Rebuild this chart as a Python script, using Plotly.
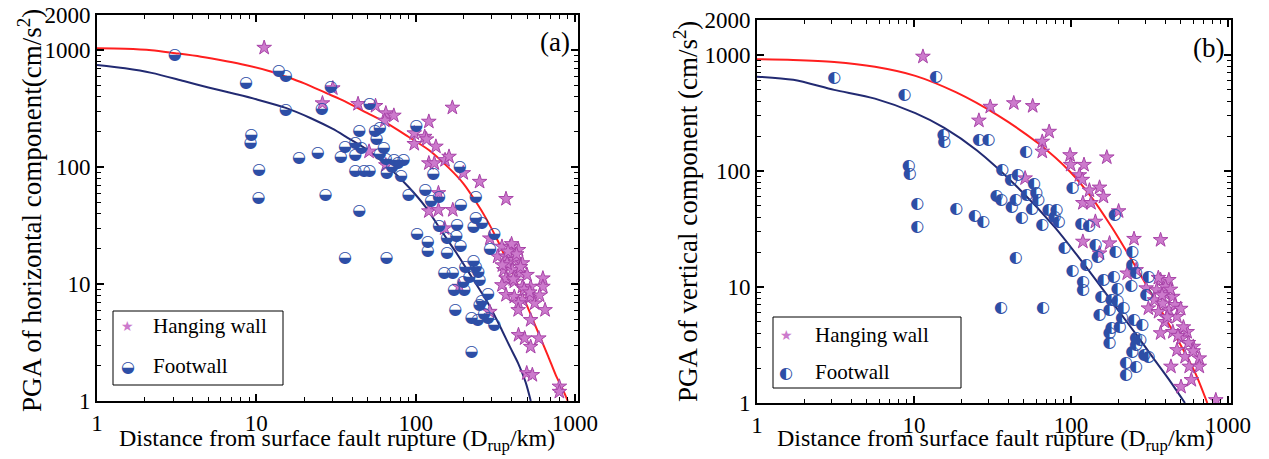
import plotly.graph_objects as go

# ---------------- Panel (a): horizontal component ----------------
hw_a_x = [11.2, 30.2, 26, 43.5, 56, 65, 64, 73, 170, 121, 98, 114, 117, 98, 51, 134, 121, 131, 153, 162,
          199, 252, 369, 139, 121, 139, 171, 65, 152, 292, 348, 392, 442, 327, 369, 416, 468, 358, 404, 455,
          369, 416, 348, 468, 527, 629, 629, 369, 416, 468, 527, 559, 442, 649, 527, 442, 483, 593, 527, 498,
          540, 798, 798, 188, 292, 400, 430, 455, 375, 410, 480, 520, 440, 600, 380, 350, 500]
hw_a_y = [1050, 473, 352, 347, 334, 289, 250, 276, 323, 245, 195, 182, 173, 158, 136, 150, 108, 108, 115, 123,
          89, 75, 53.5, 60, 42, 43, 43, 104, 30, 24.6, 20.9, 20.9, 19.6, 17.2, 17.2, 16.1, 15.1, 13.2, 13.2, 12.4,
          11.2, 10.5, 9.8, 9.5, 9.5, 11.2, 9.5, 8.07, 7.8, 7.3, 7.8, 6.85, 6.85, 6.0, 4.93, 3.67, 3.44, 3.44, 2.91, 1.73,
          1.67, 1.33, 1.2, 9.5, 5.8, 22, 18, 14, 15, 11, 9, 8.5, 6, 8, 19, 14.5, 12]

fw_a_x = [3.07, 8.6, 9.3, 9.2, 10.4, 10.3, 13.8, 15.3, 15.3, 18.5, 24.3, 25.7, 29.3, 27.2, 51.3, 44.2, 44.2,
          33.9, 36, 41.7, 41.7, 45.6, 41.7, 47.4, 51.3, 55.5, 56.7, 59.4, 59.4, 63, 65, 65.8, 73, 77.6, 83.8, 71,
          80.8, 90, 101, 115, 125, 140, 129, 189, 192, 238, 238, 260, 182, 140, 102, 180, 231, 311, 157, 119, 119,
          157, 191, 293, 36, 65.7, 151, 171, 205, 231, 238, 247, 217, 199, 252, 174, 202, 284, 260, 252, 177, 268,
          224, 245, 284, 311, 224]
fw_a_y = [912, 522, 188, 162, 95, 54, 665, 603, 308, 119, 131, 313, 483, 58, 347, 204, 42.5,
          123, 150, 160, 127, 145, 92, 92, 93, 204, 173, 215, 130, 145, 117, 89, 115, 108, 114, 101,
          84, 58, 225, 64, 51, 55, 87.5, 100, 47, 55, 36.5, 33, 32, 31.4, 27, 26, 31, 27, 24.6, 23, 19,
          18.3, 21, 20, 16.6, 16.6, 12.4, 12.4, 14, 15.6, 14, 12.8, 11.6, 10.5, 10.8, 8.9, 8.9, 8.3, 7.1, 6.6, 6, 5.6,
          5.1, 4.9, 5.1, 4.5, 2.64]

curve_hw_a_x = [1, 1.5, 2.2, 3.1, 4.5, 6.5, 8.5, 12, 15.3, 20, 27.5, 36, 49.5, 65, 90, 121, 162, 200, 240, 275,
                330, 393, 460, 527, 600, 680, 760, 840, 901]
curve_hw_a_y = [1040, 1030, 1000, 943, 880, 805, 748, 665, 595, 520, 429, 365, 291, 240, 182, 140, 98, 72, 50, 37,
                23, 13.5, 8.5, 5.5, 3.6, 2.4, 1.65, 1.25, 1.0]
curve_fw_a_x = [1, 1.5, 2.2, 3.5, 5, 7.5, 10, 15.3, 22, 30, 37, 50, 67, 90, 115, 144, 180, 217, 260, 293,
                340, 391, 440, 490, 528]
curve_fw_a_y = [748, 700, 640, 545, 480, 420, 380, 321, 262, 213, 180, 140, 101, 68, 46, 29, 18.5, 12.4, 8.4, 6.4,
                4.3, 2.9, 2.1, 1.45, 1.0]

# ---------------- Panel (b): vertical component ----------------
hw_b_x = [11.4, 25.9, 30.6, 43.2, 57, 72.6, 65.6, 65.6, 98.6, 99.5, 121, 169, 113, 118, 131, 152, 161, 119, 134,
          51, 201, 143, 119, 176, 252, 372, 152, 228, 301, 372, 420, 351, 395, 445, 340, 384, 311, 361, 420, 473,
          395, 372, 445, 549, 503, 601, 473, 533, 656, 433, 566, 656, 502, 584, 836, 260, 400, 430, 380, 460, 500,
          410, 520, 560, 600, 480, 360]
hw_b_y = [967, 272, 358, 384, 363, 218, 179, 147, 137, 113, 113, 131, 92, 84, 68, 72, 60, 53, 53,
          86.5, 45, 36.6, 24.6, 23.8, 26, 25.4, 19.5, 13.1, 9.75, 11.5, 11.5, 9.4, 8.8, 8.25, 7.7, 7.2, 6.55, 6.1, 6.3, 5.55,
          5.0, 4.0, 4.1, 4.1, 3.6, 3.06, 2.86, 2.5, 2.43, 2.06, 2.06, 2.06, 1.38, 1.58, 1.06, 14, 10, 9.5, 8.5, 7, 6.5,
          5.5, 4.5, 3.3, 2.8, 3.8, 12]

fw_b_x = [3.1, 8.7, 13.8, 9.25, 9.4, 10.5, 10.5, 15.4, 15.6, 25.9, 29.8, 18.6, 24.4, 27.6, 51.6, 36.5, 41.4, 45.8,
          33.5, 36, 44.4, 41.9, 52.2, 58.2, 60, 61.8, 56.5, 71.8, 80.9, 48.5, 65.6, 83.4, 78.5, 102, 116, 130, 190,
          44.4, 91, 102, 119, 119, 143, 148, 125, 161, 187, 192, 198, 156, 181, 198, 152, 176, 216, 211, 181, 204,
          176, 176, 245, 245, 259, 242, 311, 301, 252, 284, 259, 276, 259, 245, 293, 311, 259, 224, 224, 35.8, 66.2]
fw_b_y = [630, 452, 642, 111, 94, 52, 33, 204, 179, 185, 185, 47, 41, 36, 147, 101, 84, 92,
          61, 56, 56, 49, 62, 77, 65, 56, 47, 46, 46, 39, 34, 36, 40, 71, 35, 33.6, 42,
          17.7, 21.6, 13.6, 11.1, 9.4, 23, 18.2, 15.5, 11.5, 12.3, 20, 9.7, 8.25, 7.7, 7.5, 5.7, 6.3, 6.55, 5.4, 4.4, 4.55,
          4.0, 3.27, 20, 15.5, 13.1, 10.1, 12.3, 8.5, 5.2, 4.7, 3.6, 3.5, 3.16, 2.77, 2.6, 2.5, 2.06, 2.2, 1.74, 6.55, 6.55]

curve_hw_b_x = [1, 1.7, 3.1, 5.64, 10.2, 18.6, 33.8, 61.8, 99, 134, 181, 244, 351, 503, 620, 738]
curve_hw_b_y = [918, 905, 870, 790, 660, 475, 304, 173, 98, 60, 33, 17, 7.3, 3.1, 1.8, 1.0]
curve_fw_b_x = [1, 1.7, 3.1, 5.64, 10.2, 15.6, 25.2, 45.8, 78.5, 112, 160, 205, 260, 330, 420, 532]
curve_fw_b_y = [650, 610, 500, 420, 315, 235, 150, 72, 33, 18, 9.5, 6.0, 3.9, 2.5, 1.6, 1.0]

# ---------------- Ticks and labels ----------------
x_major = [1, 10, 100, 1000]
x_major_text = ["1", "10", "100", "1000"]
y_major = [1, 10, 100, 1000, 2000]
y_major_text = ["1", "10", "100", "1000", "2000"]
minor_vals = [m * d for d in (1, 10, 100) for m in range(2, 10)]

x_title = "Distance from surface fault rupture (D<sub>rup</sub>/km)"
y_title_a = "PGA of horizontal component(cm/s<sup>2</sup>)"
y_title_b = "PGA of vertical component (cm/s<sup>2</sup>)"
legend_labels = ["Hanging wall", "Footwall"]
panel_labels = ["(a)", "(b)"]

W, H = 1269, 459
SERIF = "Liberation Serif"
RED = "#ff1f1f"
NAVY = "#222a72"
BLUE = "#2d4ea6"
STAR_FILL = "#cc7acc"
STAR_LINE = "#a843a8"

fig = go.Figure()


def add_panel(xa, ya, cx_hw, cy_hw, cx_fw, cy_fw, hx, hy, fx, fy, glyph):
    fig.add_trace(go.Scatter(x=cx_hw, y=cy_hw, mode="lines", line=dict(color=RED, width=2, shape="spline", smoothing=0.8),
                             xaxis=xa, yaxis=ya, showlegend=False, hoverinfo="skip"))
    fig.add_trace(go.Scatter(x=cx_fw, y=cy_fw, mode="lines", line=dict(color=NAVY, width=2, shape="spline", smoothing=0.8),
                             xaxis=xa, yaxis=ya, showlegend=False, hoverinfo="skip"))
    fig.add_trace(go.Scatter(x=hx, y=hy, mode="markers", xaxis=xa, yaxis=ya, showlegend=False,
                             marker=dict(symbol="star", size=11, color=STAR_FILL,
                                         line=dict(color=STAR_LINE, width=1))))
    fig.add_trace(go.Scatter(x=fx, y=fy, mode="text", text=[glyph] * len(fx), xaxis=xa, yaxis=ya, showlegend=False,
                             textposition="middle center",
                             textfont=dict(family="DejaVu Sans", size=16, color=BLUE)))


add_panel("x", "y", curve_hw_a_x, curve_hw_a_y, curve_fw_a_x, curve_fw_a_y, hw_a_x, hw_a_y, fw_a_x, fw_a_y, "\u25D2")
add_panel("x2", "y2", curve_hw_b_x, curve_hw_b_y, curve_fw_b_x, curve_fw_b_y, hw_b_x, hw_b_y, fw_b_x, fw_b_y, "\u25D0")


def axis(domain, rng, tv, tt, anchor):
    return dict(type="log", domain=domain, range=rng, anchor=anchor, automargin=False,
                tickmode="array", tickvals=tv, ticktext=tt,
                showline=True, linecolor="black", linewidth=2, mirror="ticks",
                ticks="inside", ticklen=7, tickwidth=1.5, tickcolor="black",
                showgrid=False, zeroline=False,
                tickfont=dict(family=SERIF, size=23, color="black"),
                minor=dict(tickmode="array", tickvals=minor_vals, ticks="inside", ticklen=4,
                           tickwidth=1, tickcolor="black", showgrid=False))


def px(x):
    return x / W


def py(y):
    return 1 - y / H


fig.update_layout(
    width=W, height=H, margin=dict(l=0, r=0, t=0, b=0, autoexpand=False),
    paper_bgcolor="white", plot_bgcolor="white", showlegend=False,
    xaxis=axis([px(97), px(578)], [0, 3.019], x_major, x_major_text, "y"),
    yaxis=axis([py(401), py(15)], [0, 3.301], y_major, y_major_text, "x"),
    xaxis2=axis([px(757), px(1231)], [0, 3.019], x_major, x_major_text, "y2"),
    yaxis2=axis([py(403), py(20)], [0, 3.301], y_major, y_major_text, "x2"),
)

ann = []
shapes = []


def note(cx, cy, text, size, family=SERIF, color="black", xanchor="center", angle=0):
    ann.append(dict(x=px(cx), y=py(cy), xref="paper", yref="paper", text=text, showarrow=False,
                    xanchor=xanchor, yanchor="middle", textangle=angle,
                    font=dict(family=family, size=size, color=color)))


# axis titles
for cx, cy in [(337, 440), (995, 440)]:
    note(cx, cy, x_title, 24)
note(30, 211, y_title_a, 27, angle=-90)
note(686, 212, y_title_b, 27, angle=-90)
# panel labels
note(555, 42, panel_labels[0], 27)
note(1208, 48, panel_labels[1], 27)
# custom legends
for (bx0, bx1, by0, by1, sx, tx, y1, y2, glyph) in [
        (113, 283, 311, 385, 127.6, 151, 326, 366, "\u25D2"),
        (773, 961, 317, 388, 786.4, 813, 335, 372, "\u25D0")]:
    shapes.append(dict(type="rect", xref="paper", yref="paper", x0=px(bx0), x1=px(bx1), y0=py(by1), y1=py(by0),
                       line=dict(color="black", width=1), fillcolor="white", layer="above"))
    note(sx, y1, "\u2605", 14, family="DejaVu Sans", color=STAR_FILL)
    note(sx, y2, glyph, 16, family="DejaVu Sans", color=BLUE)
    note(tx, y1, legend_labels[0], 21, xanchor="left")
    note(tx, y2, legend_labels[1], 21, xanchor="left")

fig.update_layout(annotations=ann, shapes=shapes)
fig.write_html("out.html", config={"displayModeBar": False},
               post_script="document.body.style.margin='0';")
